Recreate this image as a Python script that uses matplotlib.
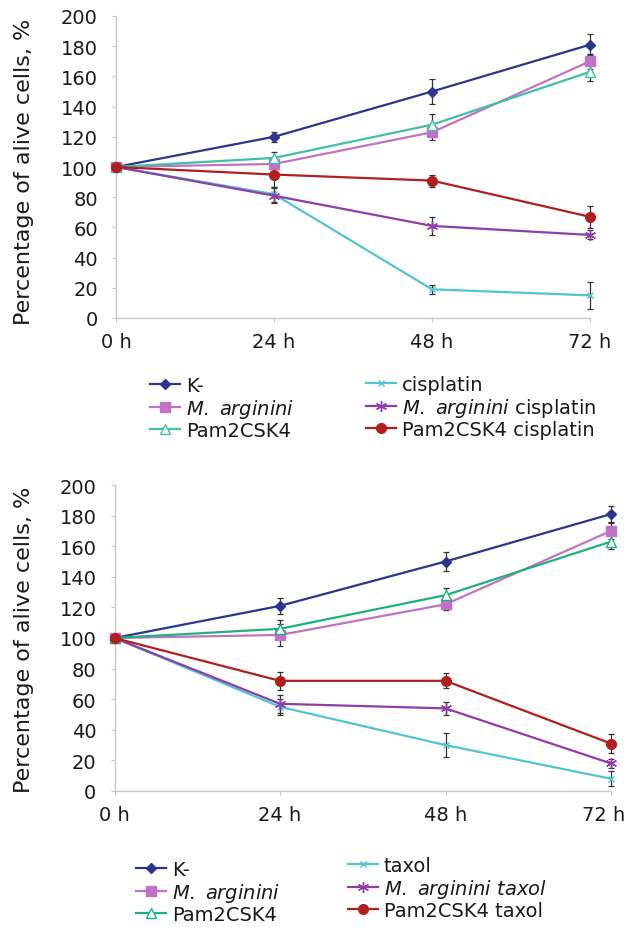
import matplotlib
matplotlib.use("Agg")
import matplotlib.pyplot as plt
import matplotlib.transforms as mtransforms

plt.rcParams['font.family'] = ['DejaVu Sans']
plt.rcParams['mathtext.fontset'] = 'dejavusans'

W, H = 630, 928

time_labels = ["0 h", "24 h", "48 h", "72 h"]
y_ticks = [0, 20, 40, 60, 80, 100, 120, 140, 160, 180, 200]

# ---- top panel (cisplatin) ----
top_names = ["K-", r"$\mathit{M.}$ $\mathit{arginini}$", "Pam2CSK4",
             "cisplatin", r"$\mathit{M.}$ $\mathit{arginini}$ cisplatin", "Pam2CSK4 cisplatin"]
top_k = [100, 120, 150, 181]
top_k_err = [0, 3.5, 8, 7]
top_marg = [100, 102, 123, 170]
top_marg_err = [0, 3, 5, 5]
top_pam = [100, 106, 128, 163]
top_pam_err = [0, 4, 7, 6]
top_drug = [100, 82, 19, 15]
top_drug_err = [0, 5, 3, 9]
top_marg_drug = [100, 81, 61, 55]
top_marg_drug_err = [0, 5, 6, 3]
top_pam_drug = [100, 95, 91, 67]
top_pam_drug_err = [0, 8, 4, 7.5]

# ---- bottom panel (taxol) ----
bot_names = ["K-", r"$\mathit{M.}$ $\mathit{arginini}$", "Pam2CSK4",
             "taxol", r"$\mathit{M.}$ $\mathit{arginini}$ $\mathit{taxol}$", "Pam2CSK4 taxol"]
bot_k = [100, 121, 150, 181]
bot_k_err = [0, 5, 6, 5]
bot_marg = [100, 102, 122, 170]
bot_marg_err = [0, 7, 4, 5]
bot_pam = [100, 106, 128, 163]
bot_pam_err = [0, 6, 5, 5]
bot_drug = [100, 55, 30, 8]
bot_drug_err = [0, 5, 8, 5]
bot_marg_drug = [100, 57, 54, 18]
bot_marg_drug_err = [0, 6, 4, 3]
bot_pam_drug = [100, 72, 72, 31]
bot_pam_drug_err = [0, 6, 5, 6]

c_k = "#2b3590"
c_marg = "#c272c6"
c_pam_top = "#3fc0a2"
c_pam_bot = "#1db27a"
c_drug = "#52c4d0"
c_marg_drug = "#8e3eaa"
c_pam_drug = "#b21e1e"
ast = (6, 2, 0)


def styles(c_pam):
    return [
        dict(color=c_k, marker="D", ms=5.5, mfc=c_k, mec=c_k),
        dict(color=c_marg, marker="s", ms=6.5, mfc=c_marg, mec=c_marg),
        dict(color=c_pam, marker="^", ms=6.5, mfc="white", mec=c_pam, mew=1.0),
        dict(color=c_drug, marker="x", ms=5, mfc=c_drug, mec=c_drug, mew=1.0),
        dict(color=c_marg_drug, marker=ast, ms=8, mfc=c_marg_drug, mec=c_marg_drug, mew=1.0),
        dict(color=c_pam_drug, marker="o", ms=7, mfc=c_pam_drug, mec=c_pam_drug),
    ]


def panel(rect_px, ylabel_px, legend_px, names, series, errs, c_pam, last_shift):
    l, r, b, t = rect_px
    ax = fig.add_axes([l / W, (H - b) / H, (r - l) / W, (b - t) / H])
    x = list(range(len(time_labels)))
    sts = styles(c_pam)
    handles = []
    for name, ys, es, st in zip(names, series, errs, sts):
        ax.errorbar(x, ys, yerr=es, fmt="none", ecolor="#333333", elinewidth=0.9,
                    capsize=2.5, capthick=0.9, zorder=2, clip_on=False)
        ln, = ax.plot(x, ys, lw=1.6, zorder=3, clip_on=False, label=name, **st)
        handles.append(ln)
    ax.set_xlim(0, 3)
    ax.set_ylim(0, 200)
    ax.set_xticks(x)
    ax.set_xticklabels(time_labels)
    ax.set_yticks(y_ticks)
    for s in ["top", "right"]:
        ax.spines[s].set_visible(False)
    for s in ["left", "bottom"]:
        ax.spines[s].set_color("#c8c8c8")
        ax.spines[s].set_linewidth(1.0)
    ax.tick_params(axis="both", colors="#c8c8c8", labelcolor="#1a1a1a",
                   labelsize=14, length=3, width=0.8)
    ax.tick_params(axis="y", pad=10)
    ax.tick_params(axis="x", pad=7)
    if last_shift:
        lab = ax.get_xticklabels()[-1]
        lab.set_transform(lab.get_transform() +
                          mtransforms.ScaledTranslation(last_shift / 100, 0, fig.dpi_scale_trans))
    fig.text(ylabel_px[0] / W, 1 - ylabel_px[1] / H, "Percentage of alive cells, %",
             rotation=90, ha="center", va="center", fontsize=16, color="#1a1a1a")
    (lx1, ly1), (lx2, ly2) = legend_px
    for hs, (lx, ly) in [(handles[:3], (lx1, ly1)), (handles[3:], (lx2, ly2))]:
        leg = fig.legend(handles=hs, loc="upper left",
                         bbox_to_anchor=(lx / W, 1 - ly / H),
                         frameon=False, fontsize=14, borderpad=0, borderaxespad=0,
                         handlelength=1.55, handletextpad=0.3, labelspacing=0.08,
                         numpoints=1)
        for txt in leg.get_texts():
            txt.set_color("#1a1a1a")
    return ax


fig = plt.figure(figsize=(W / 100, H / 100), dpi=100)

panel((116, 590, 319, 17), (24, 172), ((150, 377), (366, 376)),
      top_names,
      [top_k, top_marg, top_pam, top_drug, top_marg_drug, top_pam_drug],
      [top_k_err, top_marg_err, top_pam_err, top_drug_err, top_marg_drug_err, top_pam_drug_err],
      c_pam_top, 0)

panel((114.5, 611, 792, 486), (24, 640), ((136, 861), (348, 857)),
      bot_names,
      [bot_k, bot_marg, bot_pam, bot_drug, bot_marg_drug, bot_pam_drug],
      [bot_k_err, bot_marg_err, bot_pam_err, bot_drug_err, bot_marg_drug_err, bot_pam_drug_err],
      c_pam_bot, -7)

fig.savefig("out.png", dpi=100)
